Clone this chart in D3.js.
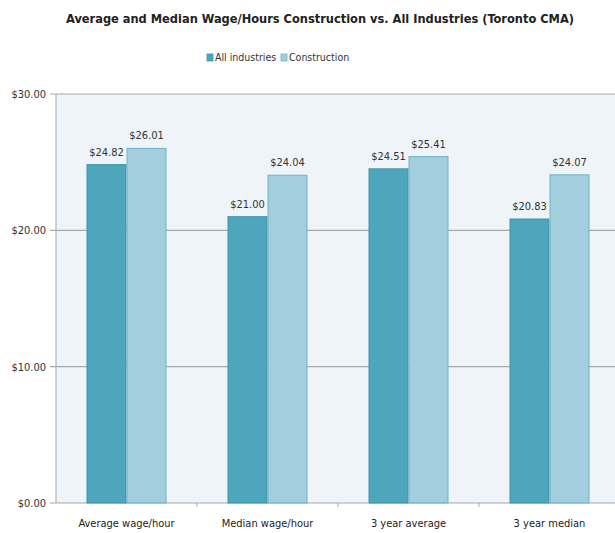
<!DOCTYPE html>
<html>
<head>
<meta charset="utf-8">
<script src="https://cdn.jsdelivr.net/npm/d3@7"></script>
<style>
  body { margin: 0; background: #fff; }
  svg { font-family: "DejaVu Sans Condensed", "DejaVu Sans", sans-serif; }
</style>
</head>
<body>
<div id="chart"></div>
<script>
var categories = ["Average wage/hour", "Median wage/hour", "3 year average", "3 year median"];
var seriesNames = ["All industries", "Construction"];
var allIndustries = [24.82, 21.00, 24.51, 20.83];
var construction = [26.01, 24.04, 25.41, 24.07];
var yTicks = [0, 10, 20, 30];

var colors = ["#4ea6bd", "#a2cedd"];
var strokes = ["#3f93aa", "#6fb3c8"];

var width = 615, height = 533;
var margin = { top: 94, right: -5, bottom: 30, left: 56 };
var innerW = width - margin.left - margin.right;
var innerH = height - margin.top - margin.bottom;

var svg = d3.select("#chart").append("svg")
  .attr("width", width)
  .attr("height", height);

svg.append("text")
  .attr("x", 320).attr("y", 23)
  .attr("text-anchor", "middle")
  .style("font-size", "12.7px")
  .style("font-weight", "bold")
  .style("fill", "#222")
  .text("Average and Median Wage/Hours Construction vs. All Industries (Toronto CMA)");

// legend
var legend = svg.append("g").attr("transform", "translate(207,58)");
var lx = [0, 74];
seriesNames.forEach(function (name, i) {
  var lg = legend.append("g").attr("transform", "translate(" + lx[i] + ",0)");
  lg.append("rect").attr("x", 0).attr("y", -4).attr("width", 6).attr("height", 7)
    .style("fill", colors[i]).style("stroke", strokes[i]).style("stroke-width", 0.8);
  lg.append("text").attr("x", 8).attr("y", 3)
    .style("font-size", "10.5px").style("fill", "#333").text(name);
});

var g = svg.append("g").attr("transform", "translate(" + margin.left + "," + margin.top + ")");

var x0 = d3.scaleBand().domain(categories).range([0, innerW]).paddingInner(0).paddingOuter(0);
var x1 = d3.scaleBand().domain(seriesNames).range([0, 80]);
var y = d3.scaleLinear().domain([0, 30]).range([innerH, 0]);

g.append("rect").attr("width", innerW).attr("height", innerH).style("fill", "#eef4f8");

// gridlines
g.selectAll(".grid").data(yTicks).enter().append("line")
  .attr("x1", -6).attr("x2", innerW)
  .attr("y1", function (d) { return y(d); }).attr("y2", function (d) { return y(d); })
  .style("stroke", "#a9a9a9").style("stroke-width", 1.2);

g.append("line").attr("x1", 0).attr("x2", 0).attr("y1", 0).attr("y2", innerH)
  .style("stroke", "#b5b5b5").style("stroke-width", 1.2);

g.selectAll(".ylab").data(yTicks).enter().append("text")
  .attr("x", -10).attr("y", function (d) { return y(d); }).attr("dy", "0.35em")
  .attr("text-anchor", "end")
  .style("font-size", "11px").style("fill", "#333")
  .text(function (d) { return "$" + d.toFixed(2); });

// category ticks
g.selectAll(".xtick").data(categories.slice(1)).enter().append("line")
  .attr("x1", function (d) { return x0(d); }).attr("x2", function (d) { return x0(d); })
  .attr("y1", innerH).attr("y2", innerH + 4)
  .style("stroke", "#a9a9a9");

g.selectAll(".xlab").data(categories).enter().append("text")
  .attr("x", function (d) { return x0(d) + x0.bandwidth() / 2; })
  .attr("y", innerH + 24)
  .attr("text-anchor", "middle")
  .style("font-size", "11px").style("fill", "#222")
  .text(function (d) { return d; });

var values = [allIndustries, construction];
var groups = g.selectAll(".grp").data(categories).enter().append("g")
  .attr("transform", function (d) { return "translate(" + (x0(d) + x0.bandwidth() / 2 - 40) + ",0)"; });

groups.each(function (cat, ci) {
  var grp = d3.select(this);
  seriesNames.forEach(function (s, si) {
    var v = values[si][ci];
    grp.append("rect")
      .attr("x", x1(s) + 0.5).attr("width", x1.bandwidth() - 1)
      .attr("y", y(v)).attr("height", innerH - y(v))
      .style("fill", colors[si]).style("stroke", strokes[si]).style("stroke-width", 1);
    grp.append("text")
      .attr("x", x1(s) + x1.bandwidth() / 2).attr("y", y(v) - 9)
      .attr("text-anchor", "middle")
      .style("font-size", "11px").style("fill", "#333")
      .text("$" + v.toFixed(2));
  });
});
</script>
</body>
</html>
